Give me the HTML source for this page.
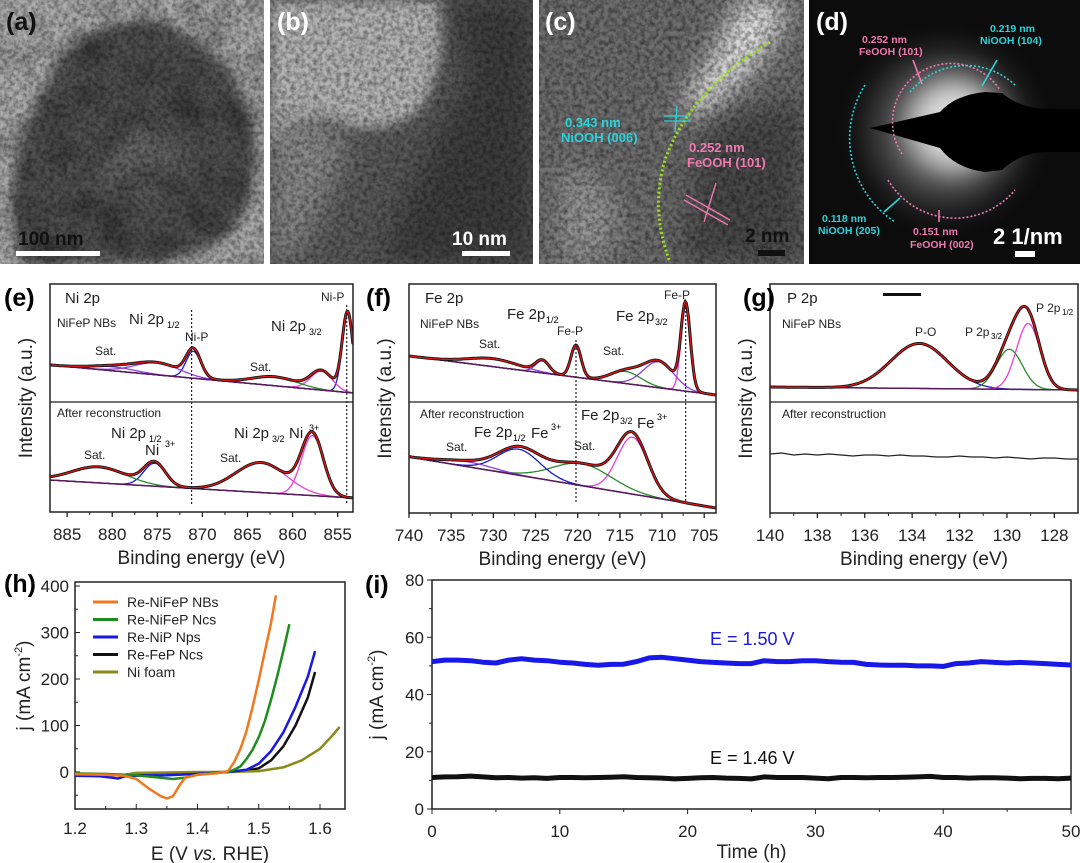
<!DOCTYPE html>
<html><head><meta charset="utf-8">
<style>
html,body{margin:0;padding:0;background:#fff;}
svg{display:block;font-family:"Liberation Sans",Arial,sans-serif;}
.tk{font-size:17px;fill:#222;}
.ti{font-size:19px;fill:#222;}
.pl{font-size:25px;font-weight:bold;}
.ann{font-size:12px;fill:#222;}
.ann2{font-size:15px;fill:#222;}
.nar{font-family:"Liberation Sans Narrow","Liberation Sans",sans-serif;}
</style></head>
<body>
<svg id="fig" width="1080" height="863" viewBox="0 0 1080 863" xmlns="http://www.w3.org/2000/svg">
<defs>
<filter id="tex" x="0" y="0" width="100%" height="100%"><feTurbulence type="fractalNoise" baseFrequency="0.22" numOctaves="3" seed="3"/><feColorMatrix type="matrix" values="0 0 0 0 0  0 0 0 0 0  0 0 0 0 0  0 0 0 -1.8 1.2"/></filter>
<filter id="tex2" x="0" y="0" width="100%" height="100%"><feTurbulence type="fractalNoise" baseFrequency="0.03" numOctaves="2" seed="8"/><feColorMatrix type="matrix" values="0 0 0 0 0  0 0 0 0 0  0 0 0 0 0  0 0 0 -2.2 1.3"/></filter>
<filter id="blur6" x="-50%" y="-50%" width="200%" height="200%"><feGaussianBlur stdDeviation="6"/></filter>
<filter id="blur14" x="-50%" y="-50%" width="200%" height="200%"><feGaussianBlur stdDeviation="14"/></filter>
<radialGradient id="glow" cx="0.5" cy="0.5" r="0.5"><stop offset="0" stop-color="#fff"/><stop offset="0.35" stop-color="#bbb"/><stop offset="0.7" stop-color="#444"/><stop offset="1" stop-color="#111" stop-opacity="0"/></radialGradient>
<clipPath id="ca"><rect x="0" y="0" width="264" height="264"/></clipPath>
<clipPath id="cb"><rect x="270" y="0" width="263" height="264"/></clipPath>
<clipPath id="cc"><rect x="539" y="0" width="265" height="264"/></clipPath>
<clipPath id="cd"><rect x="809" y="0" width="271" height="264"/></clipPath>
</defs>

<!-- (a) -->
<g clip-path="url(#ca)">
<rect x="0" y="0" width="264" height="264" fill="#acacac"/>
<path d="M30 120 Q60 40 110 25 Q170 10 220 60 Q265 110 250 200 Q230 264 120 264 L20 264 Q0 200 30 120Z" fill="#4f4f4f" filter="url(#blur6)"/>
<ellipse cx="140" cy="160" rx="40" ry="35" fill="#666" filter="url(#blur14)"/>
<rect x="0" y="0" width="264" height="264" filter="url(#tex)" opacity="0.45"/>
<rect x="0" y="0" width="264" height="264" filter="url(#tex2)" opacity="0.3"/>
<text x="6" y="30" class="pl" fill="#111">(a)</text>
<text x="18" y="245" font-size="19" font-weight="bold" fill="#111">100 nm</text>
<rect x="16" y="251" width="84" height="5" fill="#fff"/>
</g>
<!-- (b) -->
<g clip-path="url(#cb)">
<rect x="270" y="0" width="263" height="264" fill="#5a5a5a"/>
<path d="M270 0 L440 0 Q450 60 420 110 Q380 140 330 120 Q300 120 270 150Z" fill="#b4b4b4" filter="url(#blur6)"/>
<path d="M270 120 Q320 110 350 140 Q330 200 290 264 L270 264Z" fill="#8a8a8a" filter="url(#blur14)"/>
<path d="M450 0 L533 0 L533 264 L380 264 Q420 160 470 80Z" fill="#3c3c3c" filter="url(#blur14)"/>
<rect x="270" y="0" width="263" height="264" filter="url(#tex)" opacity="0.45"/>
<text x="277" y="30" class="pl" fill="#fff">(b)</text>
<text x="452" y="245" font-size="19" font-weight="bold" fill="#fff">10 nm</text>
<rect x="462" y="251" width="48" height="5" fill="#fff"/>
</g>
<!-- (c) -->
<g clip-path="url(#cc)">
<rect x="539" y="0" width="265" height="264" fill="#6e6e6e"/>
<path d="M740 0 L790 0 Q780 50 700 120 Q680 130 690 90 Q720 50 740 0Z" fill="#e8e8e8" filter="url(#blur14)"/>
<path d="M700 130 Q740 110 804 100 L804 264 L680 264Z" fill="#4a4a4a" filter="url(#blur14)"/>
<path d="M560 170 Q600 160 620 220 L600 264 L560 264Z" fill="#999" filter="url(#blur14)"/>
<rect x="539" y="0" width="265" height="264" filter="url(#tex)" opacity="0.5"/>
<path d="M770 42 Q690 90 665 160 Q650 210 670 262" fill="none" stroke="#9be21a" stroke-width="3" stroke-dasharray="2 2.5"/>
<text x="545" y="30" class="pl" fill="#fff">(c)</text>
<text x="565" y="127" font-size="13" font-weight="bold" fill="#2ad4dc">0.343 nm</text>
<text x="561" y="142" font-size="13" font-weight="bold" fill="#2ad4dc">NiOOH (006)</text>
<text x="689" y="152" font-size="13" font-weight="bold" fill="#f07ab0">0.252 nm</text>
<text x="687" y="167" font-size="13" font-weight="bold" fill="#f07ab0">FeOOH (101)</text>
<path d="M664 116 L690 116 M664 121 L690 121 M677 106 L675 132" stroke="#2ad4dc" stroke-width="1.3"/>
<path d="M686 195 L730 220 M684 200 L728 225 M716 183 L704 222" stroke="#f07ab0" stroke-width="1.3"/>
<text x="745" y="242" font-size="19" font-weight="bold" fill="#111">2 nm</text>
<rect x="758" y="250" width="27" height="6" fill="#111"/>
</g>
<!-- (d) -->
<g clip-path="url(#cd)">
<rect x="809" y="0" width="271" height="264" fill="#0c0c0c"/>
<circle cx="945" cy="130" r="110" fill="url(#glow)" opacity="0.5"/>
<circle cx="955" cy="125" r="45" fill="#fff" filter="url(#blur14)" opacity="0.75"/>
<path d="M870 128 L940 112 Q955 95 985 92 L1002 93 Q1020 108 1045 109 L1080 109 L1080 152 L1045 152 Q1020 153 1002 170 L985 172 Q955 168 940 148Z" fill="#000"/>
<g fill="none" stroke-width="1.6" stroke-dasharray="2 2">
<path d="M902 154 A58 58 0 0 1 1000 90" stroke="#f07ab0"/>
<path d="M910 92 A72 72 0 0 1 1015 85" stroke="#2ad4dc"/>
<path d="M865 85 A100 100 0 0 0 895 222" stroke="#2ad4dc"/>
<path d="M888 180 A78 78 0 0 0 1015 190" stroke="#f07ab0"/>
</g>
<path d="M922 84 L913 60 M939 210 L939 222" stroke-width="1.6" fill="none" stroke="#f07ab0"/>
<path d="M982 86 L997 60 M900 198 L884 212" stroke="#2ad4dc" stroke-width="1.6"/>
<text x="816" y="30" class="pl" fill="#fff">(d)</text>
<g font-size="10.5" font-weight="bold">
<text x="862" y="43" fill="#f07ab0">0.252 nm</text><text x="859" y="55" fill="#f07ab0">FeOOH (101)</text>
<text x="990" y="32" fill="#2ad4dc">0.219 nm</text><text x="980" y="44" fill="#2ad4dc">NiOOH (104)</text>
<text x="822" y="222" fill="#2ad4dc">0.118 nm</text><text x="818" y="234" fill="#2ad4dc">NiOOH (205)</text>
<text x="913" y="235" fill="#f07ab0">0.151 nm</text><text x="910" y="248" fill="#f07ab0">FeOOH (002)</text>
</g>
<text x="993" y="244" font-size="22" font-weight="bold" fill="#fff">2 1/nm</text>
<rect x="1015" y="251" width="20" height="6" fill="#fff"/>
</g>

<g id="charts"></g>
</svg>

<script>
// ---------- data: XPS (e) Ni 2p ----------
const eTopCenters=[853.9,856.8,862.0,871.0,875.0,880.0];
const eTopHeights=[80,19,9,27,12,4];
const eTopWidths=[0.6,1.2,2.5,0.8,2.5,2.5];
const eTopBg=[37,9];
const eBotCenters=[857.8,863.5,875.3,881.5];
const eBotHeights=[60,30,23,16];
const eBotWidths=[1.2,2.8,1.2,3.0];
const eBotBg=[32,14];
const eTicks=[885,880,875,870,865,860,855];
// ---------- data: XPS (f) Fe 2p ----------
const fTopCenters=[707.2,710.4,714.3,720.2,724.2,730.0];
const fTopHeights=[84,26,12,32,12,8];
const fTopWidths=[0.55,1.8,1.8,0.6,0.8,3.0];
const fTopBg=[46,7];
const fBotCenters=[713.5,719.5,727.0,733.0];
const fBotHeights=[57,22,26,5];
const fBotWidths=[1.8,3.5,2.5,3.0];
const fBotBg=[55,4];
const fTicks=[740,735,730,725,720,715,710,705];
// ---------- data: XPS (g) P 2p ----------
const gTopCenters=[133.7,129.9,129.1];
const gTopHeights=[45,40,66];
const gTopWidths=[1.2,0.55,0.5];
const gTopBg=[15,12];
const gBotE=[140,139.5,139,138.5,138,137.5,137,136.5,136,135.5,135,134.5,134,133.5,133,132.5,132,131.5,131,130.5,130,129.5,129,128.5,128,127.5,127];
const gBotI=[58,59,57,58,57,58,57,56,57,57,56,57,56,56,55,55,56,55,55,54,55,54,53,54,54,53,53];
const gTicks=[140,138,136,134,132,130,128];
// ---------- data: LSV (h) ----------
const hE_orange=[1.20,1.25,1.28,1.30,1.32,1.34,1.35,1.36,1.37,1.38,1.40,1.43,1.45,1.46,1.47,1.48,1.49,1.50,1.51,1.52,1.528];
const hJ_orange=[-5,-6,-8,-15,-35,-52,-57,-52,-30,-12,-6,-3,2,22,50,88,140,198,260,320,380];
const hE_green=[1.20,1.25,1.28,1.30,1.33,1.36,1.38,1.40,1.43,1.45,1.46,1.47,1.48,1.49,1.50,1.51,1.52,1.53,1.54,1.55];
const hJ_green=[-4,-5,-6,-7,-11,-15,-12,-6,-2,0,5,12,28,48,75,110,155,205,260,318];
const hE_blue=[1.20,1.24,1.26,1.27,1.28,1.30,1.35,1.40,1.45,1.48,1.50,1.52,1.54,1.56,1.58,1.592];
const hJ_blue=[-8,-9,-12,-14,-10,-8,-7,-4,0,5,18,45,85,140,205,260];
const hE_black=[1.20,1.25,1.27,1.29,1.30,1.35,1.40,1.45,1.48,1.50,1.52,1.54,1.56,1.58,1.592];
const hJ_black=[-4,-6,-7,-5,-3,-2,-1,0,3,8,25,55,100,160,215];
const hE_olive=[1.20,1.25,1.28,1.30,1.35,1.40,1.45,1.50,1.54,1.57,1.60,1.62,1.632];
const hJ_olive=[-3,-4,-6,-2,-1,0,0,2,10,25,50,78,97];
const hXTicks=[1.2,1.3,1.4,1.5,1.6];
const hYTicks=[0,100,200,300,400];
const hLegend=["Re-NiFeP NBs","Re-NiFeP Ncs","Re-NiP Nps","Re-FeP Ncs","Ni foam"];
// ---------- data: stability (i) ----------
const iBlue=[51.5,52,52,51.8,51.3,51,52,52.5,52,51.8,51.3,51,50.5,50.2,50.5,50.6,51.5,52.8,53,52.5,52,51.5,51.2,51,50.8,50.8,51.8,51.5,51.5,51.8,51.8,51.5,51.3,51.2,50.5,50.3,50.2,50.2,50,50,49.8,50.8,51,51.5,51.2,51,51.2,51,50.8,50.5,50.3];
const iBlack=[11,11.2,11.3,11.5,11.2,10.9,11,10.8,10.9,10.7,11,11,10.9,11,11.1,11.3,11,10.9,10.8,10.5,10.7,10.9,11,10.8,10.7,10.5,11.2,11,11,11,10.8,10.6,11,11,10.9,11,11,11.1,11.2,11.4,11,11,10.8,10.9,10.9,10.8,10.6,10.7,10.7,10.6,10.8];
const iXTicks=[0,10,20,30,40,50];
const iYTicks=[0,20,40,60,80];

const NS="http://www.w3.org/2000/svg";
const root=document.getElementById('charts');
function el(tag,attrs,parent,txt){const e=document.createElementNS(NS,tag);for(const k in attrs)e.setAttribute(k,attrs[k]);if(txt!==undefined)e.textContent=txt;(parent||root).appendChild(e);return e;}
function gauss(x,c,h,s){return h*Math.exp(-((x-c)*(x-c))/(2*s*s));}

const BLUE="#1a1ad6",MAG="#e63fd8",GRN="#2a8a2a",PUR="#8a3fe0";
const eTopCols=[BLUE,MAG,GRN,BLUE,PUR,PUR];
const eBotCols=[MAG,MAG,BLUE,GRN];
const fTopCols=[MAG,PUR,GRN,BLUE,PUR,PUR];
const fBotCols=[MAG,GRN,BLUE,PUR];
const gTopCols=[BLUE,GRN,MAG];

function xpsPanel(name,left,right,px0,px1,ytop,ymid,ybot,sub,ticks,minor){
  const g=el('g',{});
  
  
  const clipId='clip-'+name;
  const cp=el('clipPath',{id:clipId},g);
  el('rect',{x:px0,y:ytop,width:px1-px0,height:ybot-ytop},cp);
  const X=E=>px0+(left-E)/(left-right)*(px1-px0);
  const inner=el('g',{'clip-path':'url(#'+clipId+')'},g);
  sub.forEach((s)=>{
    const base=s.base;
    const bg=E=>s.bg[0]+(s.bg[1]-s.bg[0])*(left-E)/(left-right);
    const Y=v=>base-v;
    const N=300;
    const pts=[];for(let i=0;i<=N;i++){pts.push(left-(left-right)*i/N);}
    if(s.centers){
      s.centers.forEach((c,k)=>{
        let d='';pts.forEach((E,i)=>{d+=(i?'L':'M')+X(E).toFixed(1)+' '+Y(bg(E)+gauss(E,c,s.heights[k],s.widths[k])).toFixed(1);});
        const p=el('path',{d:d,fill:'none',stroke:s.cols[k],'stroke-width':1.3},inner);
        
        
      });
      let dbg='';pts.forEach((E,i)=>{dbg+=(i?'L':'M')+X(E).toFixed(1)+' '+Y(bg(E)).toFixed(1);});
      const pb=el('path',{d:dbg,fill:'none',stroke:'#5a1a5a','stroke-width':1.5},inner);
      
      
      let de='';pts.forEach((E,i)=>{let v=bg(E);s.centers.forEach((c,k)=>{v+=gauss(E,c,s.heights[k],s.widths[k]);});de+=(i?'L':'M')+X(E).toFixed(1)+' '+Y(v).toFixed(1);});
      const pd=el('path',{d:de,fill:'none',stroke:'#111','stroke-width':3},inner);
      
      
      const pf=el('path',{d:de,fill:'none',stroke:'#e01818','stroke-width':1.3},inner);
      
      
    } else {
      let d='';s.E.forEach((E,i)=>{d+=(i?'L':'M')+X(E).toFixed(1)+' '+Y(s.I[i]).toFixed(1);});
      const p=el('path',{d:d,fill:'none',stroke:'#222','stroke-width':1.2},inner);
      
      
    }
  });
  el('rect',{x:px0,y:ytop,width:px1-px0,height:ybot-ytop,fill:'none',stroke:'#222','stroke-width':1.5},g);
  el('line',{x1:px0,x2:px1,y1:ymid,y2:ymid,stroke:'#222','stroke-width':1.3},g);
  ticks.forEach(t=>{
    el('line',{x1:X(t),x2:X(t),y1:ybot,y2:ybot+5,stroke:'#222','stroke-width':1.3},g);
    const tl=el('text',{x:X(t),y:ybot+28,'text-anchor':'middle',class:'tk'},g,String(t));
    
    
  });
  for(let t=ticks[0]-minor;t>ticks[ticks.length-1];t-=minor*2){
    el('line',{x1:X(t),x2:X(t),y1:ybot,y2:ybot+3,stroke:'#222','stroke-width':1},g);
  }
  const xt=el('text',{x:(px0+px1)/2,y:ybot+52,'text-anchor':'middle',class:'ti'},g,'Binding energy (eV)');
  
  
  const yt=el('text',{x:0,y:0,'text-anchor':'middle',class:'ti',transform:'translate('+(px0-18)+','+((ytop+ybot)/2)+') rotate(-90)'},g,'Intensity (a.u.)');
  
  
  return {g,X};
}

// (e)
let P=xpsPanel('xps-ni2p',886.9,853.3,50,353,284,402,512,[
 {base:402,bg:eTopBg,centers:eTopCenters,heights:eTopHeights,widths:eTopWidths,cols:eTopCols},
 {base:512,bg:eBotBg,centers:eBotCenters,heights:eBotHeights,widths:eBotWidths,cols:eBotCols}],eTicks,2.5);
el('line',{x1:P.X(871.2),x2:P.X(871.2),y1:310,y2:505,stroke:'#222','stroke-width':1.2,'stroke-dasharray':'2 2'},P.g);
el('line',{x1:P.X(854),x2:P.X(854),y1:305,y2:505,stroke:'#222','stroke-width':1.2,'stroke-dasharray':'2 2'},P.g);
el('text',{x:4,y:306,class:'pl'},P.g,'(e)');
el('text',{x:65,y:303,class:'ann2'},P.g,'Ni 2p');
el('text',{x:57,y:327,class:'ann'},P.g,'NiFeP NBs');
el('text',{x:129,y:324,class:'ann2'},P.g,'Ni 2p');el('text',{x:167,y:328,'font-size':'9'},P.g,'1/2');
el('text',{x:185,y:341,class:'ann'},P.g,'Ni-P');
el('text',{x:95,y:355,class:'ann'},P.g,'Sat.');
el('text',{x:250,y:371,class:'ann'},P.g,'Sat.');
el('text',{x:271,y:331,class:'ann2'},P.g,'Ni 2p');el('text',{x:309,y:335,'font-size':'9'},P.g,'3/2');
el('text',{x:321,y:301,class:'ann'},P.g,'Ni-P');
el('text',{x:57,y:417,class:'ann'},P.g,'After reconstruction');
el('text',{x:111,y:438,class:'ann2'},P.g,'Ni 2p');el('text',{x:149,y:442,'font-size':'9'},P.g,'1/2');
el('text',{x:145,y:455,class:'ann2'},P.g,'Ni');el('text',{x:165,y:447,'font-size':'9'},P.g,'3+');
el('text',{x:84,y:459,class:'ann'},P.g,'Sat.');
el('text',{x:220,y:462,class:'ann'},P.g,'Sat.');
el('text',{x:234,y:438,class:'ann2'},P.g,'Ni 2p');el('text',{x:272,y:442,'font-size':'9'},P.g,'3/2');
el('text',{x:289,y:438,class:'ann2'},P.g,'Ni');el('text',{x:309,y:431,'font-size':'9'},P.g,'3+');

// (f)
P=xpsPanel('xps-fe2p',740,703.6,409,716,284,402,513,[
 {base:402,bg:fTopBg,centers:fTopCenters,heights:fTopHeights,widths:fTopWidths,cols:fTopCols},
 {base:512,bg:fBotBg,centers:fBotCenters,heights:fBotHeights,widths:fBotWidths,cols:fBotCols}],fTicks,2.5);
el('line',{x1:P.X(720.2),x2:P.X(720.2),y1:340,y2:503,stroke:'#222','stroke-width':1.2,'stroke-dasharray':'2 2'},P.g);
el('line',{x1:P.X(707.2),x2:P.X(707.2),y1:303,y2:503,stroke:'#222','stroke-width':1.2,'stroke-dasharray':'2 2'},P.g);
el('text',{x:366,y:306,class:'pl'},P.g,'(f)');
el('text',{x:425,y:303,class:'ann2'},P.g,'Fe 2p');
el('text',{x:420,y:328,class:'ann'},P.g,'NiFeP NBs');
el('text',{x:507,y:319,class:'ann2'},P.g,'Fe 2p');el('text',{x:546,y:323,'font-size':'9'},P.g,'1/2');
el('text',{x:557,y:335,class:'ann'},P.g,'Fe-P');
el('text',{x:479,y:348,class:'ann'},P.g,'Sat.');
el('text',{x:603,y:355,class:'ann'},P.g,'Sat.');
el('text',{x:616,y:321,class:'ann2'},P.g,'Fe 2p');el('text',{x:655,y:325,'font-size':'9'},P.g,'3/2');
el('text',{x:664,y:299,class:'ann'},P.g,'Fe-P');
el('text',{x:420,y:418,class:'ann'},P.g,'After reconstruction');
el('text',{x:474,y:437,class:'ann2'},P.g,'Fe 2p');el('text',{x:513,y:441,'font-size':'9'},P.g,'1/2');
el('text',{x:531,y:438,class:'ann2'},P.g,'Fe');el('text',{x:551,y:430,'font-size':'9'},P.g,'3+');
el('text',{x:446,y:451,class:'ann'},P.g,'Sat.');
el('text',{x:574,y:450,class:'ann'},P.g,'Sat.');
el('text',{x:581,y:420,class:'ann2'},P.g,'Fe 2p');el('text',{x:620,y:424,'font-size':'9'},P.g,'3/2');
el('text',{x:637,y:428,class:'ann2'},P.g,'Fe');el('text',{x:657,y:420,'font-size':'9'},P.g,'3+');

// (g)
P=xpsPanel('xps-p2p',140,127,770,1078,284,402,513,[
 {base:402,bg:gTopBg,centers:gTopCenters,heights:gTopHeights,widths:gTopWidths,cols:gTopCols},
 {base:512,E:gBotE,I:gBotI}],gTicks,1);
el('text',{x:743,y:306,class:'pl'},P.g,'(g)');
el('text',{x:787,y:303,class:'ann2'},P.g,'P 2p');
el('rect',{x:883,y:293,width:38,height:3,fill:'#111'},P.g);
el('text',{x:782,y:328,class:'ann'},P.g,'NiFeP NBs');
el('text',{x:915,y:336,class:'ann'},P.g,'P-O');
el('text',{x:965,y:336,class:'ann'},P.g,'P 2p');el('text',{x:991,y:339,'font-size':'8'},P.g,'3/2');
el('text',{x:1036,y:312,class:'ann'},P.g,'P 2p');el('text',{x:1062,y:315,'font-size':'8'},P.g,'1/2');
el('text',{x:782,y:418,class:'ann'},P.g,'After reconstruction');

// ---------- (h) LSV ----------
(function(){
  const g=el('g',{});
  
  
  const x0=75,x1=345,yTop=582,yBot=809;
  const X=E=>x0+(E-1.2)*612.5;
  const Y=j=>772-j*0.465;
  el('rect',{x:x0,y:yTop,width:x1-x0,height:yBot-yTop,fill:'none',stroke:'#222','stroke-width':1.5},g);
  hXTicks.forEach(t=>{el('line',{x1:X(t),x2:X(t),y1:yBot,y2:yBot-5,stroke:'#222'},g);
    const tl=el('text',{x:X(t),y:yBot+25,'text-anchor':'middle',class:'tk'},g,t.toFixed(1));
    
    });
  [1.25,1.35,1.45,1.55].forEach(t=>el('line',{x1:X(t),x2:X(t),y1:yBot,y2:yBot-3,stroke:'#222'},g));
  hYTicks.forEach(t=>{el('line',{x1:x0,x2:x0+5,y1:Y(t),y2:Y(t),stroke:'#222'},g);
    const tl=el('text',{x:x0-6,y:Y(t)+6,'text-anchor':'end',class:'tk'},g,String(t));
    
    });
  [-50,50,150,250,350].forEach(t=>el('line',{x1:x0,x2:x0+3,y1:Y(t),y2:Y(t),stroke:'#222'},g));
  const xt=el('text',{x:210,y:860,'text-anchor':'middle',class:'ti'},g);
  xt.innerHTML='E (V <tspan font-style="italic">vs.</tspan> RHE)';
  
  
  const yt=el('text',{x:0,y:0,'text-anchor':'middle',class:'ti',transform:'translate(30,'+((yTop+yBot)/2-10)+') rotate(-90)'},g);
  yt.innerHTML='j (mA cm<tspan font-size="11" dy="-8">-2</tspan><tspan dy="8">)</tspan>';
  
  
  const cols=['#f07820','#1e8c1e','#1818e0','#111','#8a8a1a'];
  const sE=[hE_black,hE_olive,hE_blue,hE_green,hE_orange];
  const sJ=[hJ_black,hJ_olive,hJ_blue,hJ_green,hJ_orange];
  const sC=[cols[3],cols[4],cols[2],cols[1],cols[0]];
  const sN=['re-fep-ncs','ni-foam','re-nip-nps','re-nifep-ncs','re-nifep-nbs'];
  sE.forEach((Es,k)=>{
    let d='';Es.forEach((E,i)=>{d+=(i?'L':'M')+X(E).toFixed(1)+' '+Y(sJ[k][i]).toFixed(1);});
    const p=el('path',{d:d,fill:'none',stroke:sC[k],'stroke-width':2.5,'stroke-linejoin':'round'},g);
    
    
  });
  hLegend.forEach((lab,i)=>{
    const y=602+i*17.5;
    const le=el('g',{},g);
    
    
    el('line',{x1:93,x2:118,y1:y,y2:y,stroke:cols[i],'stroke-width':3},le);
    el('text',{x:127,y:y+5,'font-size':'14',fill:'#222'},le,lab);
  });
  el('text',{x:4,y:592,class:'pl'},g,'(h)');
})();

// ---------- (i) stability ----------
(function(){
  const g=el('g',{});
  
  
  const x0=432,x1=1071,yTop=580,yBot=809;
  const X=t=>x0+t*(x1-x0)/50;
  const Y=v=>yBot-v*(yBot-yTop)/80;
  el('rect',{x:x0,y:yTop,width:x1-x0,height:yBot-yTop,fill:'none',stroke:'#222','stroke-width':1.5},g);
  iXTicks.forEach(t=>{el('line',{x1:X(t),x2:X(t),y1:yBot,y2:yBot+5,stroke:'#222'},g);
    const tl=el('text',{x:X(t),y:yBot+28,'text-anchor':'middle',class:'tk nar'},g,String(t));
    
    });
  [5,15,25,35,45].forEach(t=>el('line',{x1:X(t),x2:X(t),y1:yBot,y2:yBot+3,stroke:'#222'},g));
  iYTicks.forEach(t=>{el('line',{x1:x0,x2:x0-5,y1:Y(t),y2:Y(t),stroke:'#222'},g);
    const tl=el('text',{x:x0-8,y:Y(t)+6,'text-anchor':'end',class:'tk nar'},g,String(t));
    
    });
  [10,30,50,70].forEach(t=>el('line',{x1:x0,x2:x0-3,y1:Y(t),y2:Y(t),stroke:'#222'},g));
  const xt=el('text',{x:(x0+x1)/2,y:858,'text-anchor':'middle',class:'ti nar'},g,'Time (h)');
  
  
  const yt=el('text',{x:0,y:0,'text-anchor':'middle',class:'ti',transform:'translate(383,'+((yTop+yBot)/2)+') rotate(-90)'},g);
  yt.innerHTML='j (mA cm<tspan font-size="11" dy="-8">-2</tspan><tspan dy="8">)</tspan>';
  
  
  [[iBlue,'#1818e8','blue-series-1-50v'],[iBlack,'#111','black-series-1-46v']].forEach(s=>{
    let d='';s[0].forEach((v,i)=>{d+=(i?'L':'M')+X(i).toFixed(1)+' '+Y(v).toFixed(1);});
    const p=el('path',{d:d,fill:'none',stroke:s[1],'stroke-width':5,'stroke-linejoin':'round'},g);
    
    
  });
  el('text',{x:710,y:645,'font-size':'18',fill:'#1818e8',class:'nar'},g,'E = 1.50 V');
  el('text',{x:710,y:764,'font-size':'18',fill:'#111',class:'nar'},g,'E = 1.46 V');
  el('text',{x:365,y:593,class:'pl'},g,'(i)');
})();
</script>
</body></html>
